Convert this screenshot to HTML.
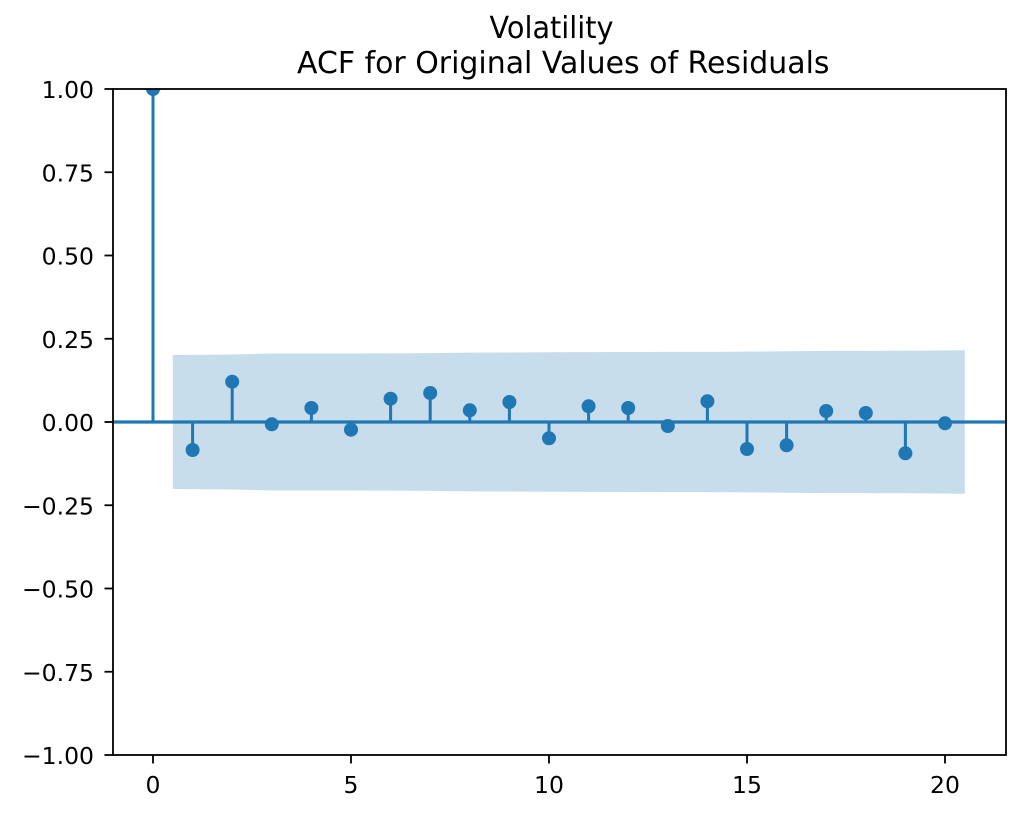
<!DOCTYPE html>
<html><head><meta charset="utf-8"><style>
html,body{margin:0;padding:0;background:#fff;}
svg{display:block;}
text{font-family:"DejaVu Sans","Liberation Sans",sans-serif;fill:#000;}
</style></head><body>
<svg width="1024" height="816" viewBox="0 0 1024 816" xmlns="http://www.w3.org/2000/svg">
<defs><clipPath id="ax"><rect x="113" y="89" width="893" height="666"/></clipPath></defs>
<rect width="1024" height="816" fill="#fff"/>
<g clip-path="url(#ax)">
<polygon fill="#1f77b4" fill-opacity="0.25" points="172.8,355 232.2,354.53 271.8,353.56 311.4,353.56 351,353.44 390.6,353.41 430.2,353.09 469.8,352.6 509.4,352.52 549,352.29 588.6,352.13 628.2,351.99 667.8,351.88 707.4,351.87 747,351.62 786.6,351.21 826.2,350.9 865.8,350.83 905.4,350.78 964.8,350.23 964.8,493.77 905.4,493.22 865.8,493.17 826.2,493.1 786.6,492.79 747,492.38 707.4,492.13 667.8,492.12 628.2,492.01 588.6,491.87 549,491.71 509.4,491.48 469.8,491.4 430.2,490.91 390.6,490.59 351,490.56 311.4,490.44 271.8,490.44 232.2,489.47 172.8,489"/>
<g stroke="#1f77b4" stroke-width="3">
<line x1="153" y1="422" x2="153" y2="89"/>
<line x1="192.6" y1="422" x2="192.6" y2="450"/>
<line x1="232.2" y1="422" x2="232.2" y2="381.7"/>
<line x1="271.8" y1="422" x2="271.8" y2="424.3"/>
<line x1="311.4" y1="422" x2="311.4" y2="408"/>
<line x1="351" y1="422" x2="351" y2="429.7"/>
<line x1="390.6" y1="422" x2="390.6" y2="398.7"/>
<line x1="430.2" y1="422" x2="430.2" y2="393"/>
<line x1="469.8" y1="422" x2="469.8" y2="410.3"/>
<line x1="509.4" y1="422" x2="509.4" y2="402"/>
<line x1="549" y1="422" x2="549" y2="438.3"/>
<line x1="588.6" y1="422" x2="588.6" y2="406.3"/>
<line x1="628.2" y1="422" x2="628.2" y2="408"/>
<line x1="667.8" y1="422" x2="667.8" y2="426"/>
<line x1="707.4" y1="422" x2="707.4" y2="401.3"/>
<line x1="747" y1="422" x2="747" y2="449"/>
<line x1="786.6" y1="422" x2="786.6" y2="445.3"/>
<line x1="826.2" y1="422" x2="826.2" y2="411"/>
<line x1="865.8" y1="422" x2="865.8" y2="413"/>
<line x1="905.4" y1="422" x2="905.4" y2="453.3"/>
<line x1="945" y1="422" x2="945" y2="423.3"/>
<line x1="113" y1="422" x2="1006" y2="422" stroke-width="3.2"/>
</g>
<g fill="#1f77b4">
<circle cx="153" cy="89" r="7"/>
<circle cx="192.6" cy="450" r="7"/>
<circle cx="232.2" cy="381.7" r="7"/>
<circle cx="271.8" cy="424.3" r="7"/>
<circle cx="311.4" cy="408" r="7"/>
<circle cx="351" cy="429.7" r="7"/>
<circle cx="390.6" cy="398.7" r="7"/>
<circle cx="430.2" cy="393" r="7"/>
<circle cx="469.8" cy="410.3" r="7"/>
<circle cx="509.4" cy="402" r="7"/>
<circle cx="549" cy="438.3" r="7"/>
<circle cx="588.6" cy="406.3" r="7"/>
<circle cx="628.2" cy="408" r="7"/>
<circle cx="667.8" cy="426" r="7"/>
<circle cx="707.4" cy="401.3" r="7"/>
<circle cx="747" cy="449" r="7"/>
<circle cx="786.6" cy="445.3" r="7"/>
<circle cx="826.2" cy="411" r="7"/>
<circle cx="865.8" cy="413" r="7"/>
<circle cx="905.4" cy="453.3" r="7"/>
<circle cx="945" cy="423.3" r="7"/>
</g>
</g>
<rect x="113" y="89" width="893" height="666" fill="none" stroke="#000" stroke-width="1.8"/>
<g stroke="#000" stroke-width="1.8">
<line x1="104.5" y1="89" x2="113" y2="89"/>
<line x1="104.5" y1="172.25" x2="113" y2="172.25"/>
<line x1="104.5" y1="255.5" x2="113" y2="255.5"/>
<line x1="104.5" y1="338.75" x2="113" y2="338.75"/>
<line x1="104.5" y1="422" x2="113" y2="422"/>
<line x1="104.5" y1="505.25" x2="113" y2="505.25"/>
<line x1="104.5" y1="588.5" x2="113" y2="588.5"/>
<line x1="104.5" y1="671.75" x2="113" y2="671.75"/>
<line x1="104.5" y1="755" x2="113" y2="755"/>
<line x1="153" y1="755" x2="153" y2="763.5"/>
<line x1="351" y1="755" x2="351" y2="763.5"/>
<line x1="549" y1="755" x2="549" y2="763.5"/>
<line x1="747" y1="755" x2="747" y2="763.5"/>
<line x1="945" y1="755" x2="945" y2="763.5"/>
</g>
<g font-size="23.5" text-anchor="end">
<text x="94" y="98">1.00</text>
<text x="94" y="181.25">0.75</text>
<text x="94" y="264.5">0.50</text>
<text x="94" y="347.75">0.25</text>
<text x="94" y="431">0.00</text>
<text x="94" y="514.25">−0.25</text>
<text x="94" y="597.5">−0.50</text>
<text x="94" y="680.75">−0.75</text>
<text x="94" y="764">−1.00</text>
</g>
<g font-size="23.5" text-anchor="middle">
<text x="153" y="793">0</text>
<text x="351" y="793">5</text>
<text x="549" y="793">10</text>
<text x="747" y="793">15</text>
<text x="945" y="793">20</text>
</g>
<g font-size="30">
<text x="489.5" y="38" textLength="124" lengthAdjust="spacingAndGlyphs">Volatility</text>
<text x="297" y="73" textLength="532.5" lengthAdjust="spacingAndGlyphs">ACF for Original Values of Residuals</text>
</g>
</svg>
</body></html>
